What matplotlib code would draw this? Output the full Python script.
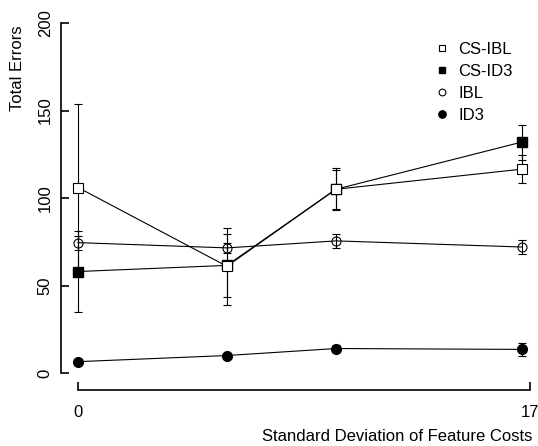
import matplotlib
matplotlib.use("Agg")
import matplotlib.pyplot as plt

plt.rcParams['font.family'] = ['Liberation Sans', 'DejaVu Sans']

# values
sd_costs = [0, 5.6, 9.7, 16.7]
cs_ibl = [106, 61, 105, 116.5]
cs_ibl_err = [48, 22, 12, 8]
cs_id3 = [58, 61.5, 105, 132]
cs_id3_err = [23, 18, 11, 10]
ibl = [74.5, 71.5, 75.5, 72]
ibl_err = [4, 3, 4, 4]
id3 = [6.5, 10, 14, 13.5]
id3_err = [0.5, 1, 2, 3.5]

y_ticks = [0, 50, 100, 150, 200]
x_ticks = [0, 17]

fig = plt.figure(figsize=(5.38, 4.46), dpi=100)
ax = fig.add_axes([61 / 538, 56 / 446, 469 / 538, 367 / 446])

common = dict(color='black', lw=0.8, elinewidth=0.8, capsize=3, capthick=0.8,
              clip_on=False)
ax.errorbar(sd_costs, cs_id3, yerr=cs_id3_err, marker='s', ms=6.5,
            mfc='black', label='CS-ID3', zorder=2, **common)
ax.errorbar(sd_costs, cs_ibl, yerr=cs_ibl_err, marker='s', ms=6.5,
            mfc='white', mew=0.8, label='CS-IBL', zorder=3, **common)
ax.errorbar(sd_costs, ibl, yerr=ibl_err, marker='o', ms=6.5,
            mfc='none', mew=0.8, label='IBL', zorder=2, **common)
ax.errorbar(sd_costs, id3, yerr=id3_err, marker='o', ms=7,
            mfc='black', label='ID3', zorder=2, **common)

ax.set_xlim(-0.64, 17)
ax.set_ylim(-9.7, 200)

for s in ['top', 'right']:
    ax.spines[s].set_visible(False)
ax.spines['left'].set_bounds(0, 200)
ax.spines['bottom'].set_bounds(0, 17)
ax.spines['left'].set_linewidth(1.2)
ax.spines['bottom'].set_linewidth(1.2)

ax.set_yticks(y_ticks)
ax.set_yticklabels([str(v) for v in y_ticks], rotation=90, va='center')
ax.set_xticks(x_ticks)
ax.set_xticklabels([str(v) for v in x_ticks])
ax.tick_params(axis='y', direction='in', length=6, width=1.2, pad=6, labelsize=12)
ax.tick_params(axis='x', direction='in', length=6, width=1.2, pad=11, labelsize=12)

ax.set_ylabel('Total Errors', fontsize=12)
ax.yaxis.set_label_coords(-0.076, 0.877)
ax.set_xlabel('Standard Deviation of Feature Costs', fontsize=12, ha='right', va='center')
ax.xaxis.set_label_coords(1.006, -0.128)

handles, labels = ax.get_legend_handles_labels()
order = ['CS-IBL', 'CS-ID3', 'IBL', 'ID3']
pairs = dict(zip(labels, [h[0] for h in handles]))
leg = ax.legend([pairs[k] for k in order], order, loc='upper right',
                bbox_to_anchor=(0.995, 0.99),
                frameon=False, numpoints=1, handlelength=0.8, handletextpad=0.6,
                labelspacing=0.42, fontsize=12, markerscale=0.75)
for h in leg.legend_handles:
    h.set_linestyle('none')

fig.savefig('out.png', dpi=100)
